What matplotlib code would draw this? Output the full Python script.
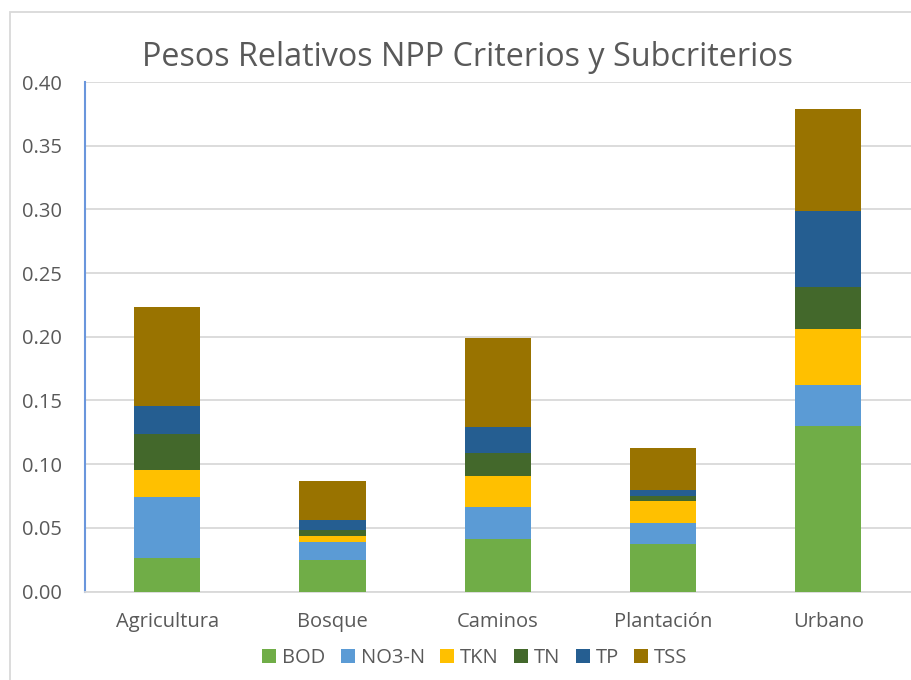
import numpy as np
import matplotlib
matplotlib.use("Agg")
import matplotlib.pyplot as plt
from matplotlib.patches import Rectangle

plt.rcParams['font.family'] = ['Open Sans', 'DejaVu Sans']

categorias = ['Agricultura', 'Bosque', 'Caminos', 'Plantación', 'Urbano']
series = ['BOD', 'NO3-N', 'TKN', 'TN', 'TP', 'TSS']
bod = [0.026, 0.025, 0.041, 0.037, 0.130]
no3 = [0.048, 0.014, 0.025, 0.017, 0.032]
tkn = [0.021, 0.0045, 0.025, 0.017, 0.044]
tn = [0.029, 0.005, 0.018, 0.004, 0.033]
tp = [0.022, 0.008, 0.020, 0.005, 0.060]
tss = [0.077, 0.030, 0.070, 0.033, 0.080]
colores = ['#70AD47', '#5B9BD5', '#FFC000', '#43682B', '#255E91', '#997300']

gris = '#595959'
fig = plt.figure(figsize=(9.11, 6.8), dpi=100)
ax = fig.add_axes([84.5 / 911, 1 - 591.5 / 680, 1 - 84.5 / 911, (591.5 - 82) / 680])

# marco del grafico
fig.patches.append(Rectangle((10 / 911, -0.05), 1.2, 1 - 12 / 680 + 0.05,
                             transform=fig.transFigure, fill=False,
                             edgecolor='#D9D9D9', linewidth=1.3))

x = np.arange(len(categorias))
base = np.zeros(len(categorias))
for nombre, vals, c in zip(series, [bod, no3, tkn, tn, tp, tss], colores):
    ax.bar(x, vals, 0.4, bottom=base, color=c, label=nombre, zorder=3)
    base += np.array(vals)

ax.set_xlim(-0.5, 4.5)
ax.set_ylim(0, 0.40)
ax.set_yticks(np.arange(0, 0.401, 0.05))
ax.set_yticklabels([f'{v:.2f}' for v in np.arange(0, 0.401, 0.05)])
ax.set_xticks(x)
ax.set_xticklabels(categorias)
ax.yaxis.grid(True, color='#D9D9D9', linewidth=1.3, zorder=0)
ax.tick_params(axis='both', length=0, labelsize=14.5, labelcolor=gris)
ax.tick_params(axis='y', pad=16)
ax.tick_params(axis='x', pad=15)
for s in ['top', 'right']:
    ax.spines[s].set_visible(False)
ax.spines['bottom'].set_color('#D9D9D9')
ax.spines['bottom'].set_linewidth(1.3)
ax.spines['left'].set_color('#6A96DC')
ax.spines['left'].set_linewidth(1.5)

fig.text(468 / 911, 1 - 57 / 680, 'Pesos Relativos NPP Criterios y Subcriterios',
         ha='center', va='center', fontsize=23.3, color=gris)

ax.legend(loc='center', bbox_to_anchor=(475 / 911, 1 - 658 / 680),
          bbox_transform=fig.transFigure, ncol=6, frameon=False,
          fontsize=14.5, labelcolor=gris, handlelength=0.7, handleheight=0.7,
          handletextpad=0.3, columnspacing=0.75)

fig.savefig('out.png', dpi=100)
